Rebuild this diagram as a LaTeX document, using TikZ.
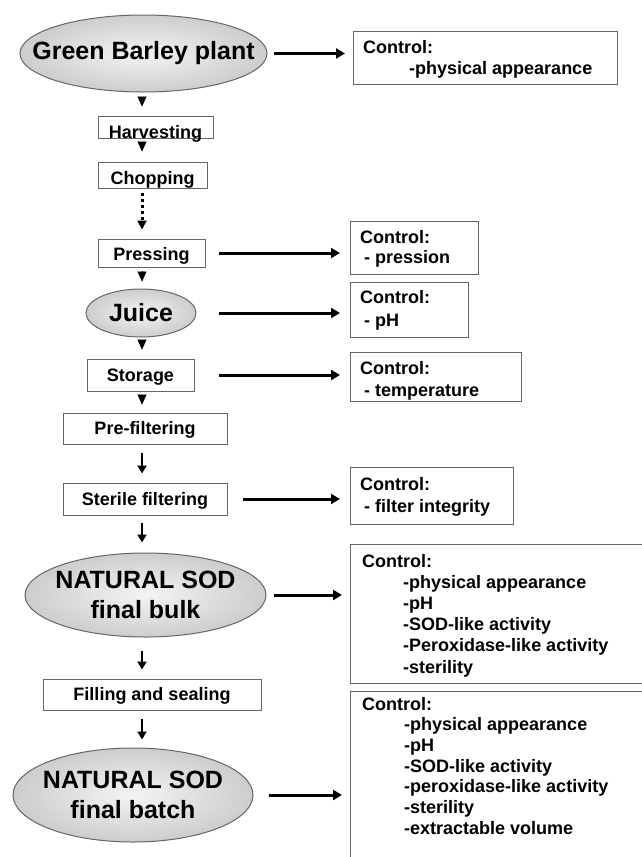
\documentclass[tikz,border=0pt]{standalone}
\usepackage{fontspec}
\setmainfont{Liberation Sans}
\usetikzlibrary{shapes.geometric,arrows.meta,calc}
\definecolor{edgegray}{HTML}{666666}
\definecolor{fillin}{HTML}{F4F4F4}
\definecolor{fillout}{HTML}{CDCDCD}
\newcommand\ctrllines[1]{\begin{tabular}[t]{@{}l@{}}#1\end{tabular}}
\tikzset{
  stepbox/.style={draw=edgegray, line width=1pt, rectangle, inner sep=0pt,
    font=\bfseries\fontsize{18}{21}\selectfont, text height=12.9pt, text depth=0pt},
  oval/.style={ellipse, draw=edgegray, line width=1pt, inner sep=0pt,
    inner color=fillin, outer color=fillout},
  ovaltext/.style={align=center, inner sep=0pt, font=\bfseries\fontsize{25}{30}\selectfont},
  ctrlbox/.style={draw=edgegray, line width=1pt, rectangle, inner sep=0pt, anchor=north west},
  ctrltext/.style={anchor=base west, inner sep=0pt},
  tri/.style={line width=0.1pt, -{Triangle[length=10pt,width=9pt]}},
  varrow/.style={line width=2.6pt, -{Triangle[length=8pt,width=9pt]}},
  harrow/.style={line width=3pt, -{Triangle[length=9pt,width=10pt]}},
  dotarrow/.style={line width=3pt, dash pattern=on 3pt off 3pt, -{Triangle[length=9pt,width=9pt]}}
}
\begin{document}
\begin{tikzpicture}[x=1pt,y=-1pt]
\useasboundingbox (0,0) rectangle (642,857);
\clip (0,0) rectangle (642,857);
\coordinate (ax) at (142,0);
% main flow
\node[oval, minimum width=247pt, minimum height=77pt,
  label={[ovaltext]center:Green Barley plant}] (gb) at (143.5,53.5) {};
\node[stepbox, minimum width=115pt, minimum height=22pt] (harv) at (155.5,127) {\raisebox{-5pt}{Harvesting}};
\node[stepbox, minimum width=109pt, minimum height=26pt] (chop) at (152.5,175) {\raisebox{-3.5pt}{Chopping}};
\node[stepbox, minimum width=107pt, minimum height=28pt] (press) at (151.5,253) {\raisebox{-1.5pt}{Pressing}};
\node[oval, minimum width=110pt, minimum height=48pt,
  label={[ovaltext]center:Juice}] (juice) at (141,313) {};
\node[stepbox, minimum width=107pt, minimum height=32pt] (stor) at (140.5,375) {Storage};
\node[stepbox, minimum width=164pt, minimum height=31pt] (pref) at (145,428.5) {Pre-filtering};
\node[stepbox, minimum width=164pt, minimum height=32pt] (ster) at (145,499) {Sterile filtering};
\node[oval, minimum width=241pt, minimum height=84pt,
  label={[ovaltext]center:NATURAL SOD\\final bulk}] (bulk) at (145.5,595) {};
\node[stepbox, minimum width=218pt, minimum height=31pt] (fill) at (152,694.5) {Filling and sealing};
\node[oval, minimum width=240pt, minimum height=94pt,
  label={[ovaltext]center:NATURAL SOD\\final batch}] (batch) at (133,795) {};
% control boxes
\node[ctrlbox, minimum width=264pt, minimum height=53pt] (b1) at (353,31) {};
\node[ctrlbox, minimum width=128pt, minimum height=53pt] (b2) at (350,221) {};
\node[ctrlbox, minimum width=118pt, minimum height=55pt] (b3) at (350,282) {};
\node[ctrlbox, minimum width=171pt, minimum height=49pt] (b4) at (350,352) {};
\node[ctrlbox, minimum width=163pt, minimum height=57pt] (b5) at (350,467) {};
\node[ctrlbox, minimum width=310pt, minimum height=139pt] (b6) at (350,544) {};
\node[ctrlbox, minimum width=310pt, minimum height=220pt] (b7) at (350,691) {};
\node[ctrltext, font=\bfseries\fontsize{18}{21}\selectfont] (t1) at (363,53)
  {\ctrllines{Control:\\\hspace*{46pt}-physical appearance}};
\node[ctrltext, font=\bfseries\fontsize{18}{20}\selectfont] (t2) at (360,243)
  {\ctrllines{Control:\\\hspace*{4pt}- pression}};
\node[ctrltext, font=\bfseries\fontsize{18}{23}\selectfont] (t3) at (360,303)
  {\ctrllines{Control:\\\hspace*{4pt}- pH}};
\node[ctrltext, font=\bfseries\fontsize{18}{22}\selectfont] (t4) at (360,374)
  {\ctrllines{Control:\\\hspace*{4pt}- temperature}};
\node[ctrltext, font=\bfseries\fontsize{18}{22}\selectfont] (t5) at (360,490)
  {\ctrllines{Control:\\\hspace*{4pt}- filter integrity}};
\node[ctrltext, font=\bfseries\fontsize{18}{21.2}\selectfont] (t6) at (362,567)
  {\ctrllines{Control:\\\hspace*{41pt}-physical appearance\\\hspace*{41pt}-pH\\\hspace*{41pt}-SOD-like activity\\\hspace*{41pt}-Peroxidase-like activity\\\hspace*{41pt}-sterility}};
\node[ctrltext, font=\bfseries\fontsize{18}{20.7}\selectfont] (t7) at (362,710)
  {\ctrllines{Control:\\\hspace*{42pt}-physical appearance\\\hspace*{42pt}-pH\\\hspace*{42pt}-SOD-like activity\\\hspace*{42pt}-peroxidase-like activity\\\hspace*{42pt}-sterility\\\hspace*{42pt}-extractable volume}};
% vertical connectors
\draw[tri, shorten <=5pt, shorten >=9pt] (gb.south -| ax) -- (harv.north -| ax);
\draw[tri, shorten <=4pt, shorten >=10pt] (harv.south -| ax) -- (chop.north -| ax);
\draw[dotarrow, shorten <=4pt, shorten >=9pt] (chop.south -| ax) -- (press.north -| ax);
\draw[tri, shorten <=3pt, shorten >=7pt] (press.south -| ax) -- (juice.north -| ax);
\draw[tri, shorten <=3pt, shorten >=9pt] (juice.south -| ax) -- (stor.north -| ax);
\draw[tri, shorten <=4pt, shorten >=8pt] (stor.south -| ax) -- (pref.north -| ax);
\draw[varrow, shorten <=8pt, shorten >=9pt] (pref.south -| ax) -- (ster.north -| ax);
\draw[varrow, shorten <=7pt, shorten >=10pt] (ster.south -| ax) -- (bulk.north -| ax);
\draw[varrow, shorten <=13pt, shorten >=9pt] (bulk.south -| ax) -- (fill.north -| ax);
\draw[varrow, shorten <=8pt, shorten >=8pt] (fill.south -| ax) -- (batch.north -| ax);
% horizontal connectors
\draw[harrow, shorten <=6pt, shorten >=8pt] (gb.east) -- (gb.east -| b1.west);
\draw[harrow, shorten <=13pt, shorten >=10pt] (press.east) -- (press.east -| b2.west);
\draw[harrow, shorten <=22pt, shorten >=10pt] (juice.east) -- (juice.east -| b3.west);
\draw[harrow, shorten <=24pt, shorten >=10pt] (stor.east) -- (stor.east -| b4.west);
\draw[harrow, shorten <=15pt, shorten >=10pt] (ster.east) -- (ster.east -| b5.west);
\draw[harrow, shorten <=7pt, shorten >=8pt] (bulk.east) -- (bulk.east -| b6.west);
\draw[harrow, shorten <=15pt, shorten >=8pt] (batch.east) -- (batch.east -| b7.west);
\end{tikzpicture}
\end{document}
